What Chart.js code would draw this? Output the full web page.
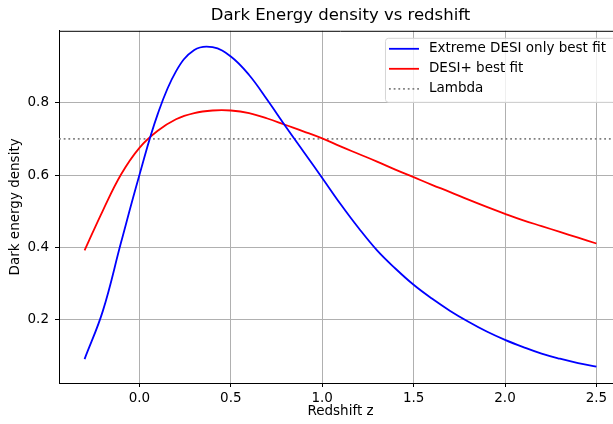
<!DOCTYPE html>
<html>
<head>
<meta charset="utf-8">
<script src="https://cdn.jsdelivr.net/npm/chart.js@4/dist/chart.umd.min.js"></script>
<style>
  html, body { margin: 0; padding: 0; overflow: hidden; background: #fff; }
  .wrap { position: relative; width: 622px; height: 424px; }
</style>
</head>
<body>
<div class="wrap"><canvas id="deChart"></canvas></div>
<script>
  // ── DATA ──
  const redshifts = [-0.3, -0.2, -0.1, 0.0, 0.1, 0.2, 0.3, 0.4, 0.5, 0.6, 0.7, 0.8, 0.9, 1.0,
    1.1, 1.2, 1.3, 1.4, 1.5, 1.6, 1.7, 1.8, 1.9, 2.0, 2.1, 2.2, 2.3, 2.4, 2.5];
  const extremeDesi = [0.092, 0.225, 0.415, 0.600, 0.768, 0.886, 0.945, 0.953, 0.927, 0.876, 0.807, 0.734, 0.663, 0.592,
    0.520, 0.453, 0.392, 0.342, 0.297, 0.259, 0.225, 0.195, 0.168, 0.145, 0.125, 0.107, 0.093, 0.081, 0.071];
  const desiPlus = [0.392, 0.502, 0.602, 0.675, 0.722, 0.754, 0.771, 0.778, 0.778, 0.771, 0.756, 0.738, 0.720, 0.701,
    0.679, 0.658, 0.637, 0.615, 0.594, 0.573, 0.553, 0.532, 0.512, 0.493, 0.475, 0.459, 0.443, 0.427, 0.411];
  const lambdaValue = 0.7;
  const xTicks = [0.0, 0.5, 1.0, 1.5, 2.0, 2.5];
  const yTicks = [0.2, 0.4, 0.6, 0.8];
  const xRange = [-0.44, 2.64];
  const yRange = [0.026, 0.998];

  const FONT = 'DejaVu Sans';
  const pts = (ys) => redshifts.map((z, i) => ({ x: z, y: ys[i] }));

  // ── legend drawn inside the axes, like matplotlib ──
  const insideLegend = {
    id: 'insideLegend',
    afterDatasetsDraw(chart) {
      const { ctx, chartArea } = chart;
      // top frame line
      ctx.save();
      ctx.strokeStyle = '#000';
      ctx.lineWidth = 1;
      ctx.beginPath();
      ctx.moveTo(chartArea.left, chartArea.top + 0.5);
      ctx.lineTo(chartArea.right, chartArea.top + 0.5);
      ctx.stroke();

      ctx.font = '13.5px "' + FONT + '"';
      const sets = chart.data.datasets;
      const textW = Math.max(...sets.map(d => ctx.measureText(d.label).width));
      const w = 4 + 30 + 10 + textW + 9;
      const h = 64;
      const right = chartArea.right - 7;
      const left = right - w;
      const top = chartArea.top + 7;

      ctx.beginPath();
      ctx.roundRect(left + 0.5, top + 0.5, w, h, 3);
      ctx.fillStyle = 'rgba(255,255,255,0.8)';
      ctx.fill();
      ctx.strokeStyle = '#d5d5d5';
      ctx.stroke();

      sets.forEach((d, i) => {
        const y = top + 11 + i * 20;
        ctx.beginPath();
        ctx.setLineDash(d.borderDash || []);
        ctx.strokeStyle = d.borderColor;
        ctx.lineWidth = d.borderWidth;
        ctx.moveTo(left + 4, y);
        ctx.lineTo(left + 34, y);
        ctx.stroke();
        ctx.setLineDash([]);
        ctx.fillStyle = '#000';
        ctx.textBaseline = 'middle';
        ctx.fillText(d.label, left + 44, y);
      });
      ctx.restore();
    }
  };

  // ── LINE CHART ──
  const ctx = document.getElementById('deChart').getContext('2d');
  new Chart(ctx, {
    type: 'line',
    data: {
      datasets: [
        {
          label: 'Extreme DESI only best fit',
          data: pts(extremeDesi),
          borderColor: '#0000ff',
          borderWidth: 1.8,
          pointRadius: 0,
          tension: 0.4
        },
        {
          label: 'DESI+ best fit',
          data: pts(desiPlus),
          borderColor: '#ff0000',
          borderWidth: 1.8,
          pointRadius: 0,
          tension: 0.4
        },
        {
          label: 'Lambda',
          data: [{ x: xRange[0], y: lambdaValue }, { x: xRange[1], y: lambdaValue }],
          borderColor: '#808080',
          borderWidth: 1.8,
          borderDash: [1.8, 2.9],
          borderCapStyle: 'butt',
          pointRadius: 0
        }
      ]
    },
    options: {
      responsive: true,
      maintainAspectRatio: false,
      animation: false,
      layout: { padding: 0 },
      plugins: {
        legend: { display: false },
        tooltip: { enabled: false },
        title: {
          display: true,
          fullSize: false,
          text: 'Dark Energy density vs redshift',
          color: '#000',
          font: { family: FONT, size: 16.5, weight: 'normal' },
          padding: { top: 6, bottom: 5 }
        }
      },
      scales: {
        x: {
          type: 'linear',
          min: xRange[0],
          max: xRange[1],
          afterBuildTicks: s => { s.ticks = xTicks.map(v => ({ value: v })); },
          afterFit: s => { s.height = 41; },
          grid: { color: '#b0b0b0', lineWidth: 1, tickColor: '#000', tickLength: 4 },
          border: { display: true, color: '#000', width: 1 },
          ticks: {
            color: '#000', padding: 3, maxRotation: 0,
            font: { family: FONT, size: 13.5 },
            callback: v => Number(v).toFixed(1)
          },
          title: {
            display: true, text: 'Redshift z', color: '#000',
            font: { family: FONT, size: 13.5 }, padding: { top: 0, bottom: 4 }
          }
        },
        y: {
          min: yRange[0],
          max: yRange[1],
          afterBuildTicks: s => { s.ticks = yTicks.map(v => ({ value: v })); },
          afterFit: s => { s.width = 59; },
          grid: { color: '#b0b0b0', lineWidth: 1, tickColor: '#000', tickLength: 4 },
          border: { display: true, color: '#000', width: 1 },
          ticks: {
            color: '#000', padding: 6,
            font: { family: FONT, size: 13.5 },
            callback: v => Number(v).toFixed(1)
          },
          title: {
            display: true, text: 'Dark energy density', color: '#000',
            font: { family: FONT, size: 13.5 }, padding: { top: 7, bottom: 0 }
          }
        }
      }
    },
    plugins: [insideLegend]
  });
</script>
</body>
</html>
